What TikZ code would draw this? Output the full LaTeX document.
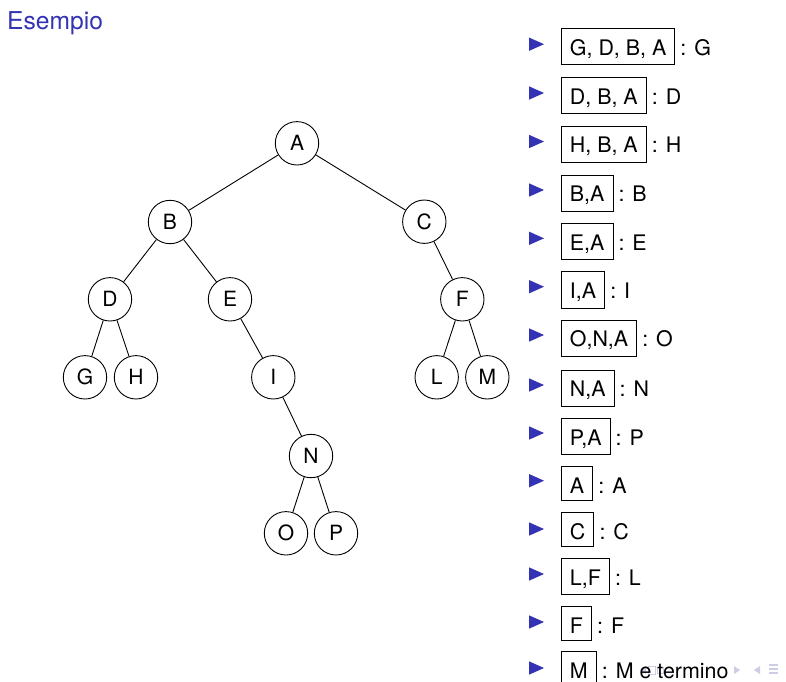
\documentclass[tikz,border=0pt]{standalone}
\usepackage{fontspec}
\setmainfont{TeX Gyre Heros}
\definecolor{structblue}{RGB}{51,51,179}
\definecolor{navc}{RGB}{205,205,228}
\tikzset{
  tn/.style={circle,draw,line width=0.9pt,minimum size=43.4pt,inner sep=0pt,
    font=\fontsize{21}{25}\selectfont},
  edge/.style={line width=0.9pt},
  lbox/.style={draw,line width=0.9pt,inner xsep=8.5pt,inner ysep=6.6pt,
    text height=20pt,anchor=base west,font=\fontsize{21.4}{25}\selectfont},
  lab/.style={inner sep=0pt,anchor=base west,font=\fontsize{21.4}{25}\selectfont},
  itembullet/.pic={\fill[structblue] (-7.5,-6.7) -- (7.5,0) -- (-7.5,6.7) -- cycle;}
}
\begin{document}
\begin{tikzpicture}[x=1pt,y=-1pt]
\useasboundingbox (0,0) rectangle (786,681);
\fill[white] (0,0) rectangle (786,681);
% title
\node[inner sep=0pt,anchor=base west,text=structblue,font=\fontsize{24.6}{28}\selectfont] (title) at (7,29.3) {Esempio};
% tree
\node[tn] (A) at (297,143.3) {A};
\node[tn] (B) at (170,222) {B};
\node[tn] (C) at (424.3,221.7) {C};
\node[tn] (D) at (110,299.3) {D};
\node[tn] (E) at (230,299.3) {E};
\node[tn] (F) at (462.3,299.3) {F};
\node[tn] (G) at (85,377.3) {G};
\node[tn] (H) at (136,377.3) {H};
\node[tn] (I) at (273.3,377.3) {I};
\node[tn] (L) at (436.7,377.3) {L};
\node[tn] (M) at (487.3,377.3) {M};
\node[tn] (N) at (311,456) {N};
\node[tn] (O) at (286,533.3) {O};
\node[tn] (P) at (336,533.3) {P};
\draw[edge] (A) -- (B);
\draw[edge] (A) -- (C);
\draw[edge] (B) -- (D);
\draw[edge] (B) -- (E);
\draw[edge] (D) -- (G);
\draw[edge] (D) -- (H);
\draw[edge] (E) -- (I);
\draw[edge] (I) -- (N);
\draw[edge] (N) -- (O);
\draw[edge] (N) -- (P);
\draw[edge] (C) -- (F);
\draw[edge] (F) -- (L);
\draw[edge] (F) -- (M);
% navigation symbols (faint)
\fill[navc] (646,666) -- (640,670) -- (646,674) -- cycle;
\draw[navc,line width=1pt] (648,666) rectangle (655,674);
\draw[navc,line width=1pt] (657,667) rectangle (663,673);
\fill[navc] (734,666) -- (740,670) -- (734,674) -- cycle;
\fill[navc] (760,666) -- (754,670) -- (760,674) -- cycle;
\draw[navc,line width=1.2pt] (769,665) -- (778,665) (769,669) -- (778,669) (769,673) -- (778,673);
% list
\pic at (536.5,44.2) {itembullet};
\node[lbox] (b1) at (561,55) {G, D, B, A};
\node[lab] (l1) at ([xshift=5pt]b1.base east) {: G};
\pic at (536.5,93) {itembullet};
\node[lbox] (b2) at (561,104) {D, B, A};
\node[lab] (l2) at ([xshift=5pt]b2.base east) {: D};
\pic at (536.5,141.5) {itembullet};
\node[lbox] (b3) at (561,152.7) {H, B, A};
\node[lab] (l3) at ([xshift=5pt]b3.base east) {: H};
\pic at (536.5,190) {itembullet};
\node[lbox] (b4) at (561,201.7) {B,A};
\node[lab] (l4) at ([xshift=5pt]b4.base east) {: B};
\pic at (536.5,238.3) {itembullet};
\node[lbox] (b5) at (561,250) {E,A};
\node[lab] (l5) at ([xshift=5pt]b5.base east) {: E};
\pic at (536.5,286.7) {itembullet};
\node[lbox] (b6) at (561,298.4) {I,A};
\node[lab] (l6) at ([xshift=5pt]b6.base east) {: I};
\pic at (536.5,335) {itembullet};
\node[lbox] (b7) at (561,346.7) {O,N,A};
\node[lab] (l7) at ([xshift=5pt]b7.base east) {: O};
\pic at (536.5,385) {itembullet};
\node[lbox] (b8) at (561,396.7) {N,A};
\node[lab] (l8) at ([xshift=5pt]b8.base east) {: N};
\pic at (536.5,433) {itembullet};
\node[lbox] (b9) at (561,445) {P,A};
\node[lab] (l9) at ([xshift=5pt]b9.base east) {: P};
\pic at (536.5,480.7) {itembullet};
\node[lbox] (b10) at (561,493.4) {A};
\node[lab] (l10) at ([xshift=5pt]b10.base east) {: A};
\pic at (536.5,529) {itembullet};
\node[lbox] (b11) at (561,539) {C};
\node[lab] (l11) at ([xshift=5pt]b11.base east) {: C};
\pic at (536.5,574) {itembullet};
\node[lbox] (b12) at (561,585) {L,F};
\node[lab] (l12) at ([xshift=5pt]b12.base east) {: L};
\pic at (536.5,622) {itembullet};
\node[lbox] (b13) at (561,633.4) {F};
\node[lab] (l13) at ([xshift=5pt]b13.base east) {: F};
\pic at (536.5,668) {itembullet};
\node[lbox] (b14) at (561,678.4) {M};
\node[lab] (l14) at ([xshift=5pt]b14.base east) {: M e termino};
\end{tikzpicture}
\end{document}
